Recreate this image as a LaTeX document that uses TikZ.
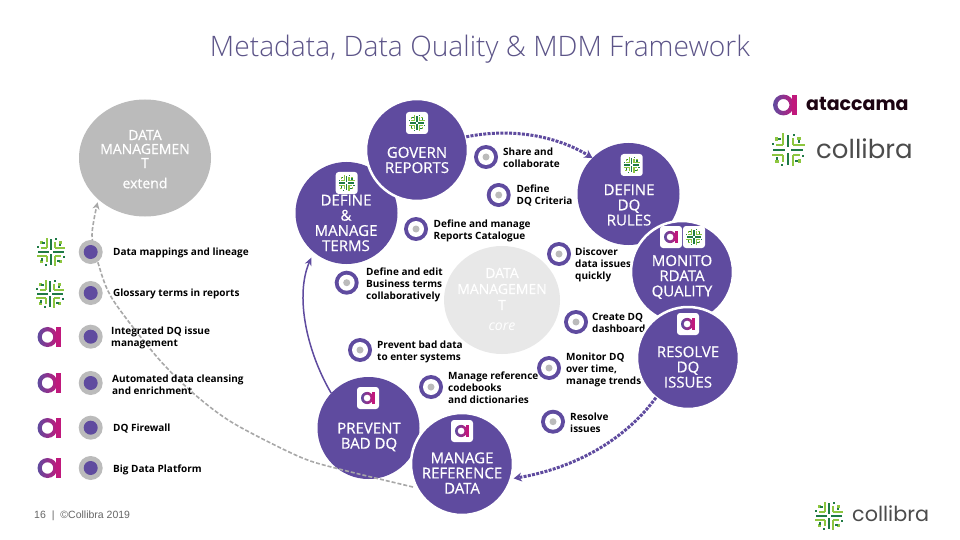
\documentclass[tikz,border=0pt]{standalone}
\usepackage{fontspec}
\usetikzlibrary{arrows.meta,shapes.geometric}
\setmainfont{Open Sans}
\newfontfamily\ttlfont{Open Sans}[UprightFont=* Light]
\newfontfamily\semifont{Open Sans}[FakeBold=0.5]
\newfontfamily\logofont{Poppins}
\newfontfamily\footfont{Liberation Sans}
\definecolor{pur}{HTML}{5F4B9F}
\definecolor{grayc}{HTML}{BBBBBB}
\definecolor{corec}{HTML}{E8E8E8}
\definecolor{dashg}{HTML}{A8A8A8}
\definecolor{ttlc}{HTML}{5C5488}
\definecolor{mag}{HTML}{C0187C}
\definecolor{limeg}{HTML}{8DC63F}
\definecolor{darkg}{HTML}{1F7A45}
\tikzset{
  bigc/.style={circle,fill=pur,minimum size=102pt,inner sep=0pt,outer sep=0pt},
  topc/.style={bigc,draw=white,line width=2.5pt},
  clab/.style={text=white,align=center,font=\semifont\fontsize{15}{15.2}\selectfont,inner sep=0pt},
  item/.style={anchor=west,align=left,inner sep=0pt,text=black,yshift=-1pt,font=\bfseries\fontsize{10}{12}\selectfont},
  flowa/.style={pur,line width=3pt,dash pattern=on 3pt off 1.3pt},
  hd/.style={-{Stealth[length=8pt,width=9pt]}},
}
\newcommand{\ataicon}[3]{\begin{scope}[shift={(#1,#2)},x=#3pt,y=#3pt]
  \path[left color=pur,right color=mag,even odd rule] (-0.13,0) circle[radius=#3*0.87pt] (-0.13,0) circle[radius=#3*0.5pt];
  \fill[mag] (0.62,-0.87) rectangle (1,0.87);
\end{scope}}
\newcommand{\colicon}[3]{\begin{scope}[shift={(#1,#2)},x=#3pt,y=#3pt]
  \foreach \r in {0,90,180,270}{
    \begin{scope}[rotate=\r]
      \fill[darkg] (-0.09,0.16) rectangle (0.09,0.92);
      \fill[limeg] (-0.38,0.3) rectangle (-0.22,1);
      \fill[limeg] (0.22,0.3) rectangle (0.38,0.7);
      \fill[darkg] (0.58,0.42) rectangle (0.74,0.62);
      \fill[limeg] (-0.76,0.55) rectangle (-0.6,0.78);
      \fill[darkg] (0.28,0.84) rectangle (0.42,0.98);
    \end{scope}}
\end{scope}}
\newcommand{\tile}[2]{\fill[white,rounded corners=3pt] (#1-11,#2-11) rectangle (#1+11,#2+11);}
\newcommand{\lbul}[3]{\node[circle,fill=grayc,minimum size=24pt,inner sep=0pt] (#3) at (#1,#2) {};
  \fill[pur] (#3) circle[radius=7pt];}
\newcommand{\rbul}[3]{\node[circle,fill=pur,minimum size=24pt,inner sep=0pt] (#3) at (#1,#2) {};
  \fill[white] (#3) circle[radius=8pt];\fill[grayc] (#3) circle[radius=3.5pt];}
\begin{document}
\begin{tikzpicture}[x=1pt,y=-1pt]
\useasboundingbox (0,0) rectangle (960,540);
\fill[white] (0,0) rectangle (960,540);
\node[text=ttlc,font=\ttlfont\fontsize{28.2}{30}\selectfont] (title) at (480,49) {Metadata, Data Quality \& MDM Framework};
% grey circles
\node[ellipse,fill=grayc,minimum width=132pt,minimum height=117pt,inner sep=0pt,outer sep=0pt] (greyc) at (145,158) {};
\node[clab,font=\semifont\fontsize{14}{14}\selectfont] (greyt) at (145,149) {DATA\\MANAGEMEN\\T};
\node[clab,font=\semifont\fontsize{14}{14}\selectfont] (greye) at (145,183) {extend};
\node[ellipse,fill=corec,minimum width=116pt,minimum height=108pt,inner sep=0pt,outer sep=0pt] (corec) at (502,300) {};
\node[clab,font=\semifont\fontsize{14}{16}\selectfont] (coret) at (502,289) {DATA\\MANAGEMEN\\T};
\node[clab,font=\itshape\fontsize{14}{14}\selectfont] (coree) at (502,327) {core};
% items right
\rbul{486}{157}{b1}\node[item] (t1) at (503,157) {Share and\\collaborate};
\rbul{498.7}{195}{b2}\node[item] (t2) at (516.5,195) {Define\\DQ Criteria};
\rbul{416}{229}{b3}\node[item] (t3) at (433.5,230) {Define and manage\\Reports Catalogue};
\rbul{346.7}{282.7}{b4}\node[item] (t4) at (366,284) {Define and edit\\Business terms\\collaboratively};
\rbul{559}{254}{b5}\node[item] (t5) at (575,264) {Discover\\data issues\\quickly};
\rbul{576}{322}{b6}\node[item] (t6) at (592,322) {Create DQ\\dashboard};
\rbul{549}{368}{b7}\node[item] (t7) at (566,369) {Monitor DQ\\over time,\\manage trends};
\rbul{553}{421.7}{b8}\node[item] (t8) at (570,422) {Resolve\\issues};
\rbul{360}{350}{b9}\node[item] (t9) at (377,351) {Prevent bad data\\to enter systems};
\rbul{431}{387}{b10}\node[item] (t10) at (448,387) {Manage reference\\codebooks\\and dictionaries};
% big circles
\node[bigc] (define) at (346.5,213) {};
\node[topc] (govern) at (417,150) {};
\node[bigc] (dqrules) at (628.5,194) {};
\node[topc] (monitor) at (682,272) {};
\node[topc] (resolve) at (688,358) {};
\node[bigc] (prevent) at (368.5,428) {};
% connectors under top circle
\draw[dashg,line width=1.6pt,dash pattern=on 4pt off 2pt,-{Stealth[length=7pt,width=7pt]},shorten >=3pt]
  plot[smooth] coordinates {(413,487) (343,470) (300,457) (233,423) (193,393) (157,357) (113,300) (99,266) (92,235) (greyc.south west)};
\node[topc] (mref) at (462,464) {};
\draw[pur,line width=1.5pt,-{Stealth[length=8pt,width=7pt]},shorten >=6pt]
  (prevent.137) .. controls (306,350) and (295,295) .. (define.230);
\draw[flowa,hd] (govern.15) .. controls (510,128) and (555,135) .. (dqrules.135);
\draw[flowa,hd,shorten >=3pt] (resolve.231) .. controls (625,440) and (575,468) .. (mref.-17);
% labels
\node[clab] (l1) at (417,160) {GOVERN\\REPORTS};
\node[clab] (l2) at (346,223) {DEFINE\\\&\\MANAGE\\TERMS};
\node[clab] (l3) at (629,205) {DEFINE\\DQ\\RULES};
\node[clab] (l4) at (682,277) {MONITO\\RDATA\\QUALITY};
\node[clab] (l5) at (688,367) {RESOLVE\\DQ\\ISSUES};
\node[clab] (l6) at (369,437) {PREVENT\\BAD DQ};
\node[clab] (l7) at (462,473) {MANAGE\\REFERENCE\\DATA};
% tiles
\tile{417}{123}\colicon{417}{123}{8}
\tile{346.7}{183}\colicon{346.7}{183}{8}
\tile{631.7}{165}\colicon{631.7}{165}{8}
\tile{671}{237}\ataicon{671}{237}{7}
\tile{694}{237}\colicon{694}{237}{8}
\tile{688}{324}\ataicon{688}{324}{7}
\tile{368}{398}\ataicon{368}{398}{7}
\tile{462}{431}\ataicon{462}{431}{7}
% left list
\lbul{90.7}{252}{a1}\node[item] (s1) at (113,252) {Data mappings and lineage};
\lbul{90.7}{293}{a2}\node[item] (s2) at (113,293) {Glossary terms in reports};
\lbul{90.7}{336.7}{a3}\node[item] (s3) at (111,337) {Integrated DQ issue\\management};
\lbul{90.7}{383}{a4}\node[item] (s4) at (112,384) {Automated data cleansing\\and enrichment};
\lbul{90.7}{427.7}{a5}\node[item] (s5) at (113,428) {DQ Firewall};
\lbul{90.7}{468}{a6}\node[item] (s6) at (113,469) {Big Data Platform};
\colicon{51}{252}{14}
\colicon{50}{294}{14}
\ataicon{49}{337}{11.5}
\ataicon{49}{383}{11.5}
\ataicon{49}{428}{11.5}
\ataicon{49}{468}{11.5}
% logos
\ataicon{785}{105}{12}
\node[anchor=west,inner sep=0pt,text=black!85!mag,font=\logofont\bfseries\fontsize{19}{20}\selectfont] (atal) at (806,104) {ataccama};
\colicon{788}{150}{16.5}
\node[anchor=west,inner sep=0pt,text=black!70,font=\logofont\fontsize{26}{28}\selectfont] (coll) at (816,149) {collibra};
\colicon{829}{516}{14}
\node[anchor=west,inner sep=0pt,text=black!70,font=\logofont\fontsize{20.7}{22}\selectfont] (coll2) at (852,514) {collibra};
\node[anchor=west,inner sep=0pt,text=black!60,font=\footfont\fontsize{10.5}{12}\selectfont] (foot) at (34,516) {16\hspace{3pt} | \hspace{3pt}©Collibra 2019};
\end{tikzpicture}
\end{document}
